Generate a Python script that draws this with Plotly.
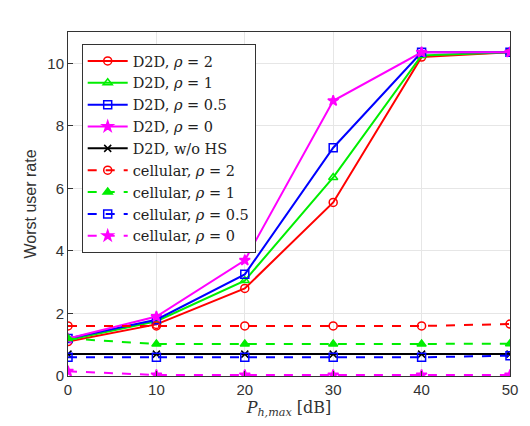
import plotly.graph_objects as go

x_vals = [0, 10, 20, 30, 40, 50]

d2d_rho2 = [1.10, 1.65, 2.80, 5.55, 10.20, 10.35]
d2d_rho1 = [1.15, 1.75, 3.05, 6.35, 10.25, 10.35]
d2d_rho05 = [1.20, 1.80, 3.25, 7.30, 10.35, 10.35]
d2d_rho0 = [1.20, 1.90, 3.70, 8.80, 10.35, 10.35]
d2d_wo_hs = [0.70, 0.70, 0.70, 0.70, 0.70, 0.70]
cell_rho2 = [1.60, 1.60, 1.60, 1.60, 1.60, 1.66]
cell_rho1 = [1.20, 1.02, 1.02, 1.02, 1.02, 1.03]
cell_rho05 = [0.60, 0.60, 0.60, 0.60, 0.60, 0.65]
cell_rho0 = [0.15, 0.03, 0.03, 0.03, 0.03, 0.03]

series = [
    ("D2D, <i>ρ</i> = 2", d2d_rho2, "#ff0000", "circle-open", "solid", 8),
    ("D2D, <i>ρ</i> = 1", d2d_rho1, "#00ee00", "triangle-up-open", "solid", 8),
    ("D2D, <i>ρ</i> = 0.5", d2d_rho05, "#0000ff", "square-open", "solid", 8),
    ("D2D, <i>ρ</i> = 0", d2d_rho0, "#ff00ff", "star", "solid", 8),
    ("D2D, w/o HS", d2d_wo_hs, "#000000", "x-thin-open", "solid", 7),
    ("cellular, <i>ρ</i> = 2", cell_rho2, "#ff0000", "circle-open", "dash", 8),
    ("cellular, <i>ρ</i> = 1", cell_rho1, "#00ee00", "triangle-up", "dash", 8),
    ("cellular, <i>ρ</i> = 0.5", cell_rho05, "#0000ff", "square-open", "dash", 8),
    ("cellular, <i>ρ</i> = 0", cell_rho0, "#ff00ff", "star", "dash", 8),
]

fig = go.Figure()
for name, ys, col, sym, dash, ms in series:
    fig.add_trace(go.Scatter(
        x=x_vals, y=ys, name=name, mode="lines+markers",
        line=dict(color=col, width=2, dash=dash),
        marker=dict(symbol=sym, size=ms, color=col, line=dict(color=col, width=1.5)),
    ))

axis_common = dict(
    showgrid=True, gridcolor="#e6e6e6", gridwidth=1,
    showline=True, linecolor="#333333", linewidth=1, mirror=True,
    ticks="inside", ticklen=5, tickcolor="#333333",
    tickfont=dict(family="Liberation Sans, Arial", size=15, color="#333333"),
    zeroline=False,
)

fig.update_layout(
    width=530, height=426,
    margin=dict(l=68, r=16, t=32, b=50),
    paper_bgcolor="white", plot_bgcolor="white",
    showlegend=True,
    legend=dict(
        x=0.031, y=0.965, xanchor="left", yanchor="top",
        bgcolor="white", bordercolor="#333333", borderwidth=1,
        font=dict(family="DejaVu Serif, Liberation Serif", size=14.5, color="#222222"),
        tracegroupgap=0, itemwidth=40,
    ),
    xaxis=dict(range=[0, 50], tickvals=[0, 10, 20, 30, 40, 50],
               title=dict(text="<i>P</i><sub><i>h,max</i></sub> [dB]",
                          font=dict(family="DejaVu Serif, Liberation Serif", size=16, color="#333333"),
                          standoff=4),
               **axis_common),
    yaxis=dict(range=[0, 11], tickvals=[0, 2, 4, 6, 8, 10],
               title=dict(text="Worst user rate",
                          font=dict(family="Liberation Sans, Arial", size=16, color="#333333"),
                          standoff=6),
               **axis_common),
)

fig.write_html("out.html")
